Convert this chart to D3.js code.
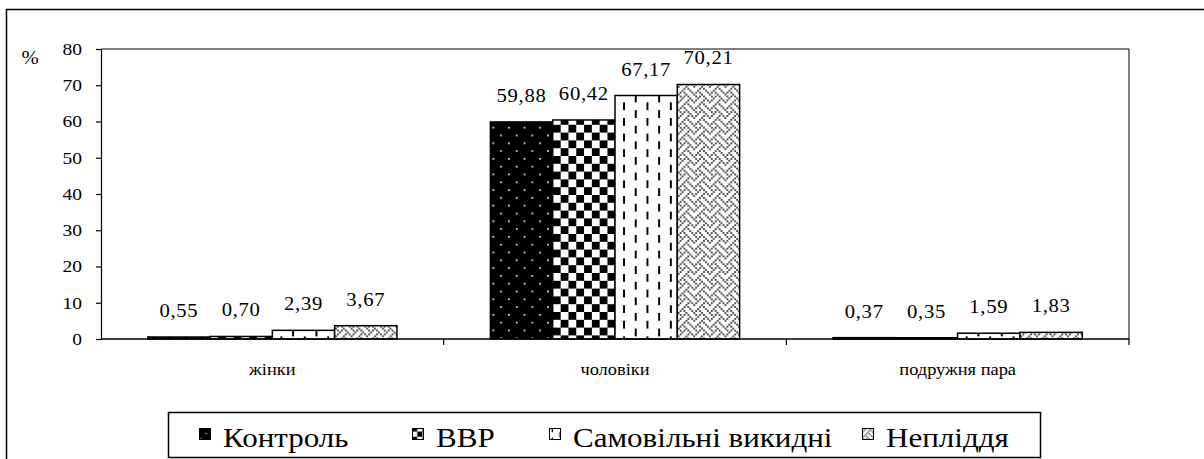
<!DOCTYPE html>
<html>
<head>
<meta charset="utf-8">
<script src="https://cdn.jsdelivr.net/npm/d3@7/dist/d3.min.js"></script>
</head>
<body style="margin:0;padding:0;background:#fff">
<svg id="chart" width="1204" height="459" style="display:block"></svg>
<script>
// Categories along the x axis
const categories = ["жінки", "чоловіки", "подружня пара"];
// Series (legend order)
const seriesNames = ["Контроль", "ВВР", "Самовільні викидні", "Непліддя"];
// Values per series, one per category (%)
const control   = [0.55, 59.88, 0.37];
const vvr       = [0.70, 60.42, 0.35];
const abortions = [2.39, 67.17, 1.59];
const infertile = [3.67, 70.21, 1.83];
// Y axis ticks
const yTicks = [0, 10, 20, 30, 40, 50, 60, 70, 80];

const seriesValues = [control, vvr, abortions, infertile];
const fmt = v => v.toFixed(2).replace(".", ",");
const FONT = "'Liberation Serif', 'DejaVu Serif', serif";
const SX = 1.15; // text is drawn slightly widened

const svg = d3.select("#chart").style("font-family", FONT);
const plot = { left: 101, top: 49, right: 1129, bottom: 339 };

// ---- fill patterns (pixel-style hatches, scaled by s) ----
const defs = svg.append("defs");
const weave = [0x88, 0x54, 0x22, 0x45, 0x88, 0x14, 0x22, 0x51];

function makePatterns(prefix, s) {
  // 0: black with white dots
  const p0 = defs.append("pattern").attr("id", prefix + "0").attr("patternUnits", "userSpaceOnUse")
    .attr("width", 8 * s).attr("height", 8 * s);
  p0.append("rect").attr("width", 8 * s).attr("height", 8 * s).attr("fill", "#000");
  [[1, 1], [5, 5]].forEach(([x, y]) =>
    p0.append("rect").attr("x", x * s).attr("y", y * s).attr("width", s * 0.9).attr("height", s * 0.9).attr("fill", "#ddd"));

  // 1: large checkerboard
  const p1 = defs.append("pattern").attr("id", prefix + "1").attr("patternUnits", "userSpaceOnUse")
    .attr("width", 8 * s).attr("height", 8 * s);
  p1.append("rect").attr("width", 8 * s).attr("height", 8 * s).attr("fill", "#fff");
  p1.append("rect").attr("x", 0).attr("y", 0).attr("width", 4 * s).attr("height", 4 * s).attr("fill", "#000");
  p1.append("rect").attr("x", 4 * s).attr("y", 4 * s).attr("width", 4 * s).attr("height", 4 * s).attr("fill", "#000");

  // 2: dashed vertical
  const dw = 6 * s, dh = 8 * s;
  const p2 = defs.append("pattern").attr("id", prefix + "2").attr("patternUnits", "userSpaceOnUse")
    .attr("width", dw * 2).attr("height", dh);
  p2.append("rect").attr("width", dw * 2).attr("height", dh).attr("fill", "#fff");
  p2.append("rect").attr("x", 2 * s).attr("y", 0.5 * s).attr("width", s).attr("height", 4 * s).attr("fill", "#000");
  p2.append("rect").attr("x", 2 * s + dw).attr("y", 4.5 * s).attr("width", s).attr("height", 4 * s).attr("fill", "#000");
  p2.append("rect").attr("x", 2 * s + dw).attr("y", -3.5 * s).attr("width", s).attr("height", 4 * s).attr("fill", "#000");

  // 3: weave
  const p3 = defs.append("pattern").attr("id", prefix + "3").attr("patternUnits", "userSpaceOnUse")
    .attr("width", 8 * s).attr("height", 8 * s);
  p3.append("rect").attr("width", 8 * s).attr("height", 8 * s).attr("fill", "#fff");
  weave.forEach((row, r) => {
    for (let c = 0; c < 8; c++) {
      if (row & (0x80 >> c)) {
        p3.append("rect").attr("x", c * s).attr("y", r * s).attr("width", s).attr("height", s).attr("fill", "#555");
      }
    }
  });
  return d3.range(4).map(i => `url(#${prefix}${i})`);
}
const fills = makePatterns("pat", 1.95);
const legendFills = makePatterns("lpat", 1.3);

// widened serif label at (x, y)
function stext(parent, x, y, size, anchor, str) {
  return parent.append("text")
    .attr("transform", `translate(${x},${y}) scale(${SX},1)`)
    .attr("font-family", FONT).attr("font-size", size).attr("fill", "#000")
    .attr("text-anchor", anchor).text(str);
}

// ---- outer frame ----
svg.append("rect").attr("x", 6.5).attr("y", 9.5).attr("width", 1260).attr("height", 500)
  .attr("fill", "none").attr("stroke", "#000").attr("stroke-width", 1.5);

// ---- scales ----
const x0 = d3.scaleBand().domain(categories).range([plot.left, plot.right]).paddingInner(0).paddingOuter(0);
const x1 = d3.scaleBand().domain(d3.range(4)).range([0, x0.bandwidth()]).paddingOuter(0.75).paddingInner(0);
const y = d3.scaleLinear().domain([0, 80]).range([plot.bottom, plot.top]);

// plot border (top and right)
svg.append("path")
  .attr("d", `M${plot.left},${plot.top}H${plot.right}V${plot.bottom}`)
  .attr("fill", "none").attr("stroke", "#000").attr("stroke-width", 1);

// ---- bars ----
const groups = svg.append("g").selectAll("g").data(categories).join("g")
  .attr("transform", d => `translate(${x0(d)},0)`);
groups.each(function (cat, ci) {
  const g = d3.select(this);
  seriesValues.forEach((vals, si) => {
    const v = vals[ci];
    g.append("rect")
      .attr("x", x1(si)).attr("y", y(v))
      .attr("width", x1.bandwidth()).attr("height", y(0) - y(v))
      .attr("fill", fills[si]).attr("stroke", "#000").attr("stroke-width", 1.5);
    stext(g, x1(si) + x1.bandwidth() / 2, y(v) - 20, 18, "middle", fmt(v))
      .attr("letter-spacing", 0.6);
  });
});

// ---- y axis ----
const yAxis = svg.append("g").attr("transform", `translate(${plot.left},0)`)
  .call(d3.axisLeft(y).tickValues(yTicks).tickSize(5).tickPadding(14).tickFormat(d3.format("d")));
yAxis.attr("font-family", FONT);
yAxis.select(".domain").attr("stroke", "#000").attr("stroke-width", 1.2);
yAxis.selectAll(".tick line").attr("stroke", "#000").attr("stroke-width", 1.2);
yAxis.selectAll(".tick text")
  .attr("font-family", FONT).attr("font-size", 17).attr("fill", "#000")
  .attr("x", -19 / SX).attr("transform", `scale(${SX},1)`);

stext(svg, 30, 64, 18, "middle", "%");

// ---- x axis ----
const xAxis = svg.append("g").attr("transform", `translate(0,${plot.bottom})`);
xAxis.append("line").attr("x1", plot.left).attr("x2", plot.right).attr("stroke", "#000").attr("stroke-width", 1.5);
const sepTicks = categories.map(c => x0(c) + x0.bandwidth());
xAxis.selectAll("line.sep").data(sepTicks).join("line").attr("class", "sep")
  .attr("x1", d => d).attr("x2", d => d).attr("y1", 0).attr("y2", 6).attr("stroke", "#000").attr("stroke-width", 1.2);
categories.forEach(c => stext(xAxis, x0(c) + x0.bandwidth() / 2, 36, 16, "middle", c));

// ---- legend ----
const legend = svg.append("g");
legend.append("rect").attr("x", 168.5).attr("y", 412.5).attr("width", 872).attr("height", 45)
  .attr("fill", "#fff").attr("stroke", "#000").attr("stroke-width", 1.5);
const legendX = [199, 412, 549, 862];
seriesNames.forEach((name, i) => {
  const g = legend.append("g").attr("transform", `translate(${legendX[i]},0)`);
  g.append("rect").attr("x", 0.5).attr("y", 428.5).attr("width", 11).attr("height", 11)
    .attr("fill", legendFills[i]).attr("stroke", "#000").attr("stroke-width", 1);
  stext(g, 24, 447, 27, "start", name);
});
</script>
</body>
</html>
